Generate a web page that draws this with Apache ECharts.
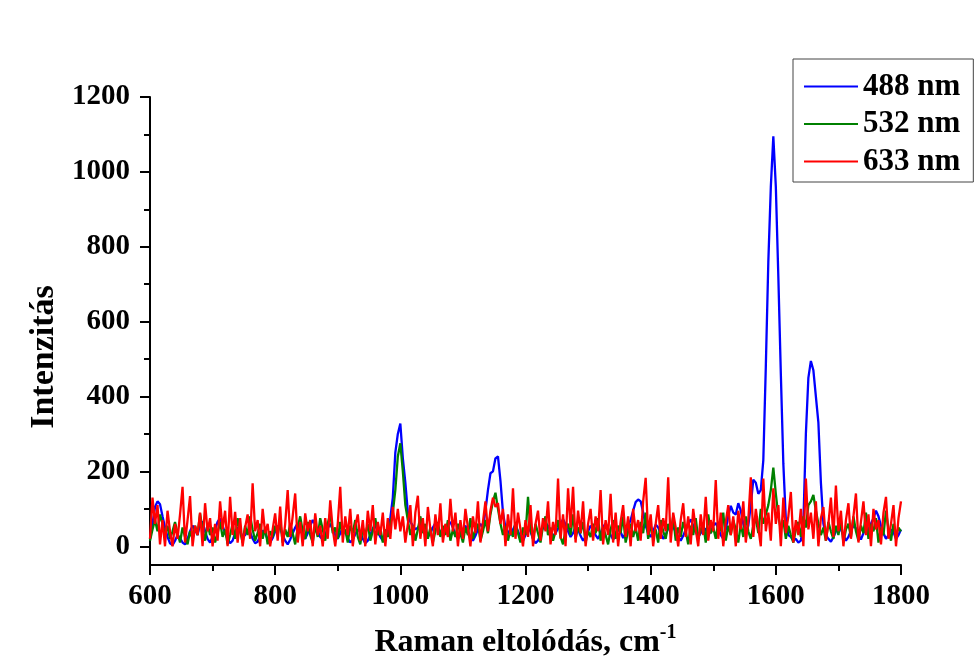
<!DOCTYPE html>
<html>
<head>
<meta charset="utf-8">
<script src="https://cdn.jsdelivr.net/npm/echarts@6/dist/echarts.min.js"></script>
<style>
html,body{margin:0;padding:0;background:#fff;}
#chart{width:976px;height:664px;}
</style>
</head>
<body>
<div id="chart"></div>
<script>
// Raman shift grid (cm-1): first sample and spacing
const shiftStart = 600;
const shiftStep = 4;

const seriesNames = ['488 nm', '532 nm', '633 nm'];

const xTicks = [600, 800, 1000, 1200, 1400, 1600, 1800];
const yTicks = [0, 200, 400, 600, 800, 1000, 1200];
const yMinorTicks = [100, 300, 500, 700, 900, 1100];

// Intensity, 488 nm excitation
const int488 = [
  20,60,105,120,112, 80,50,25,8,3, 15,30,22,10,5, 20,40,55,45,30, 60,66,40,20,10,
  25,45,65,75,55, 35,20,8,15,35, 50,40,25,30,45, 38,20,8,12,28, 42,35,18,10,22,
  40,55,48,30,15, 5,18,35,50,62, 45,30,20,35,55, 70,58,40,25,18, 30,48,60,45,30,
  20,35,50,40,22, 10,18,32,45,38, 20,8,15,30,48, 55,40,25,15,30, 45,75,130,250,300,
  328,235,170,90,65, 55,45,50,60,48, 35,25,35,50,62, 50,38,30,42,58, 65,50,32,20,30,
  45,55,40,25,15, 28,45,60,50,95, 150,195,200,235,240, 175,90,50,40,30, 45,58,40,25,15,
  30,48,40,20,8, 15,32,50,62,55, 40,28,35,48,60, 72,58,40,25,35, 52,45,28,15,25,
  40,55,45,30,20, 35,52,60,48,30, 18,28,45,38,22, 35,55,70,95,118, 125,120,90,55,35,
  25,40,58,50,35, 20,30,48,60,52, 38,25,15,28,45, 60,72,55,38,25, 35,50,45,30,40,
  55,62,48,30,20, 45,80,108,90,85, 115,95,60,40,55, 110,178,170,140,150, 230,480,760,960,1095,
  960,720,460,220,70, 30,25,15,20,10, 15,60,300,450,495, 470,400,330,170,60, 30,20,12,25,40,
  55,45,28,15,25, 42,55,48,30,18, 35,52,45,60,75, 95,80,55,35,20, 30,45,38,20,30,
  45
];

// Intensity, 532 nm excitation
const int532 = [
  15,45,70,40,85, 60,30,55,20,40, 65,35,10,50,25, 5,40,20,55,30, 88,45,15,60,30,
  50,10,35,65,25, 45,5,30,60,20, 75,40,10,55,30, 80,45,15,35,60, 20,50,5,40,25,
  55,30,70,10,45, 25,60,35,5,50, 80,40,20,65,30, 10,55,25,75,45, 15,60,88,35,50,
  20,65,30,45,10, 55,35,70,25,5, 50,30,60,15,40, 75,30,50,10,45, 25,60,90,150,240,
  275,200,110,70,30, 55,15,45,80,35, 60,20,50,10,40, 65,25,55,30,70, 15,45,25,60,35,
  10,50,30,75,20, 45,60,15,40,70, 35,85,120,143,100, 60,30,55,15,45, 25,65,35,10,50,
  30,132,45,20,60, 35,10,55,80,30, 50,15,40,70,25, 5,45,60,30,85, 20,50,35,65,10,
  40,25,60,35,75, 15,50,30,5,45, 70,20,55,35,80, 10,40,60,25,50, 15,65,35,90,20,
  55,30,45,10,70, 40,20,60,35,80, 15,50,25,65,40, 5,55,30,75,20, 45,60,10,85,35,
  50,20,65,40,90, 15,55,30,70,45, 10,60,25,80,40, 20,55,75,35,100, 60,85,110,150,210,
  140,80,45,70,20, 55,30,10,45,65, 25,80,50,110,120, 137,95,60,30,50, 15,65,40,20,55,
  30,70,10,45,60, 25,80,40,15,55, 35,90,20,60,40, 75,10,50,30,95, 45,15,60,25,50,
  40
];

// Intensity, 633 nm excitation
const int633 = [
  20,130,60,110,5, 70,0,95,40,0, 60,20,85,159,10, 70,134,0,55,30, 90,0,115,40,75,
  0,60,15,120,45, 95,0,132,30,92, 10,75,0,50,85, 20,168,40,70,0, 100,35,60,0,45,
  88,15,106,0,60, 150,25,80,141,10, 65,0,88,40,70, 0,88,30,55,0, 75,20,123,45,0,
  60,159,10,80,30, 100,0,55,85,15, 70,0,95,40,110, 5,65,30,90,0, 75,20,105,45,100,
  40,80,10,60,110, 0,90,135,20,75, 0,105,45,0,85, 30,115,10,60,25, 127,40,90,0,70,
  20,100,50,0,80, 35,120,10,65,120, 40,95,130,105,115, 60,100,0,85,30, 155,20,90,45,0,
  70,25,110,0,60, 95,15,75,40,120, 5,65,30,181,20, 85,0,155,50,159, 10,95,35,120,0,
  60,100,15,80,40, 150,5,70,30,140, 10,90,0,65,110, 25,80,0,100,40, 70,15,120,183,30,
  85,0,60,110,20, 75,40,184,10,90, 50,0,70,115,25, 80,5,100,45,0, 85,30,132,15,70,
  40,177,20,90,0, 65,110,30,80,0, 95,45,120,10,70, 184,25,100,50,0, 181,40,90,15,155,
  60,110,0,130,35, 80,145,10,70,30, 100,0,181,45,90, 20,120,0,75,105, 15,60,130,25,162,
  40,95,0,70,115, 20,80,141,10,65, 120,30,85,0,100, 45,70,5,90,132, 20,60,110,0,75,
  120
];

const colors = ['#0000ff', '#008000', '#ff0000'];
const FONT = '"Liberation Serif", "Times New Roman", serif';

function pairs(vals) {
  return vals.map((v, i) => [shiftStart + i * shiftStep, v]);
}

const chart = echarts.init(document.getElementById('chart'), null, { renderer: 'canvas' });

const plain = v => String(v);

const option = {
  backgroundColor: '#ffffff',
  animation: false,
  grid: { left: 150, right: 75, top: 97, bottom: 95, containLabel: false },
  legend: {
    orient: 'vertical',
    left: 793,
    top: 59,
    padding: [12, 13, 5, 11],
    itemWidth: 54,
    itemHeight: 2,
    itemGap: 6.5,
    icon: 'rect',
    borderColor: '#444',
    borderWidth: 1,
    backgroundColor: '#fff',
    textStyle: { fontFamily: FONT, fontSize: 31, fontWeight: 'bold', color: '#000', lineHeight: 31 },
    data: seriesNames
  },
  xAxis: {
    type: 'value',
    min: 600,
    max: 1800,
    interval: 200,
    splitLine: { show: false },
    axisLine: { show: true, onZero: false, lineStyle: { color: '#000', width: 2 } },
    axisTick: { show: true, length: 10, lineStyle: { color: '#000', width: 2 } },
    minorTick: { show: true, splitNumber: 2, length: 6, lineStyle: { color: '#000', width: 2 } },
    axisLabel: {
      margin: 17,
      fontFamily: FONT, fontSize: 29, fontWeight: 'bold', color: '#000',
      customValues: xTicks,
      formatter: plain
    },
    name: '{m|Raman eltolódás, cm}{s|-1}',
    nameLocation: 'middle',
    nameGap: 58,
    nameTextStyle: {
      rich: {
        m: { fontFamily: FONT, fontSize: 32, fontWeight: 'bold', color: '#000', lineHeight: 36, verticalAlign: 'bottom' },
        s: { fontFamily: FONT, fontSize: 20, fontWeight: 'bold', color: '#000', lineHeight: 36, verticalAlign: 'top' }
      }
    }
  },
  yAxis: [
    {
      type: 'value',
      min: -50,
      max: 1200,
      splitLine: { show: false },
      axisLine: { show: true, onZero: false, lineStyle: { color: '#000', width: 2 } },
      axisTick: { show: true, length: 10, customValues: yTicks, lineStyle: { color: '#000', width: 2 } },
      axisLabel: {
        margin: 20,
        fontFamily: FONT, fontSize: 29, fontWeight: 'bold', color: '#000',
        customValues: yTicks,
        formatter: plain
      },
      name: 'Intenzitás',
      nameLocation: 'middle',
      nameGap: 75,
      nameTextStyle: { fontFamily: FONT, fontSize: 34, fontWeight: 'bold', color: '#000', padding: [0, 52, 0, 0] }
    },
    {
      type: 'value',
      min: -50,
      max: 1200,
      position: 'left',
      splitLine: { show: false },
      axisLine: { show: false },
      axisTick: { show: true, length: 6, customValues: yMinorTicks, lineStyle: { color: '#000', width: 2 } },
      axisLabel: { show: false, customValues: yMinorTicks }
    }
  ],
  series: [
    { name: seriesNames[0], data: pairs(int488) },
    { name: seriesNames[1], data: pairs(int532) },
    { name: seriesNames[2], data: pairs(int633) }
  ].map((s, i) => ({
    type: 'line',
    name: s.name,
    data: s.data,
    yAxisIndex: 0,
    symbol: 'none',
    showSymbol: false,
    color: colors[i],
    lineStyle: { color: colors[i], width: 2.3 },
    z: 2 + i
  }))
};

chart.setOption(option);
</script>
</body>
</html>
